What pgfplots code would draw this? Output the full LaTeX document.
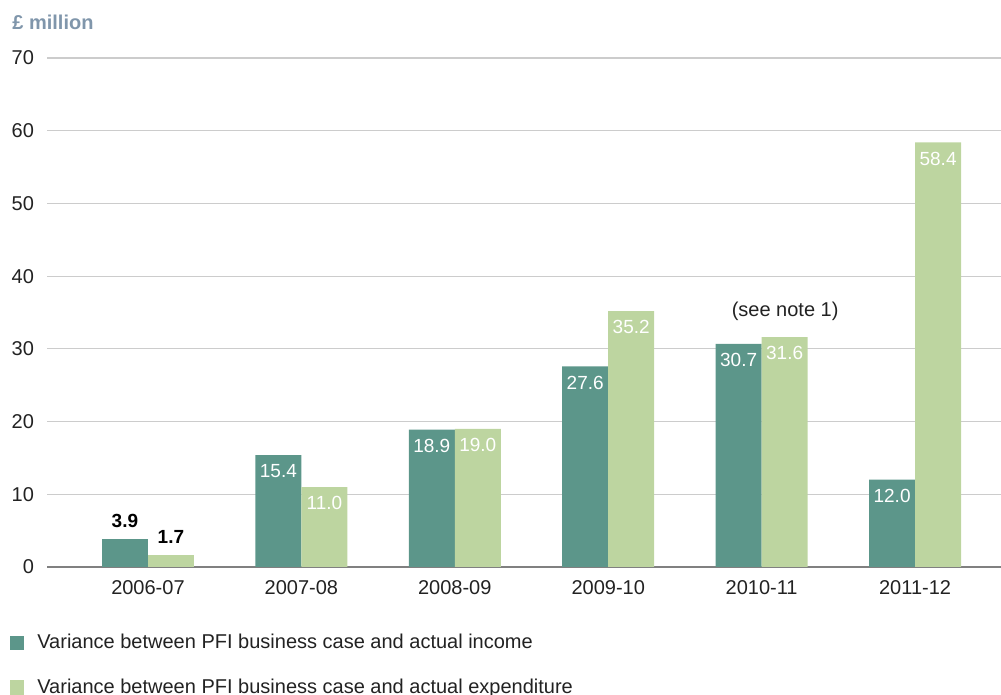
\documentclass[border=0pt]{standalone}
\usepackage{pgfplots}
\pgfplotsset{compat=1.18}
\usepackage{fontspec}
\setmainfont{Liberation Sans}
\definecolor{teal1}{HTML}{5C968A}
\definecolor{green1}{HTML}{BDD5A0}
\definecolor{titleblue}{HTML}{8096AB}
\definecolor{gridgray}{HTML}{CCCCCC}
\definecolor{axisgray}{HTML}{808080}
\definecolor{txt}{HTML}{222222}
\begin{document}
\begin{tikzpicture}
\useasboundingbox (0,0) rectangle (500.5pt,347.5pt);
\node[anchor=west, inner sep=0pt, text=titleblue, font=\fontsize{10}{12}\selectfont\bfseries] at (6pt,336.5pt) {£ million};
\begin{axis}[
  at={(23.5pt,64pt)}, anchor=south west,
  scale only axis, width=477pt, height=254.5pt,
  xmin=-0.658, xmax=5.56, ymin=0, ymax=70,
  xtick={0,1,2,3,4,5},
  xticklabels={2006-07,2007-08,2008-09,2009-10,2010-11,2011-12},
  ytick={0,10,...,70},
  major tick length=0pt,
  ymajorgrids, grid style={gridgray, line width=0.6pt},
  axis x line*=bottom, x axis line style={axisgray, line width=1pt, -},
  axis y line*=left, y axis line style={draw=none},
  /pgf/number format/assume math mode=true,
  ticklabel style={font=\fontsize{10}{12}\selectfont, text=txt},
  yticklabel style={xshift=-3pt},
  xticklabel style={yshift=-3pt},
  bar width=23pt,
  clip=false,
  legend cell align=left,
  legend style={at={(-0.0388,-0.132)}, anchor=north west, draw=none, fill=none,
    inner sep=0pt, outer sep=0pt, row sep=13.5pt, column sep=6.5pt,
    font=\fontsize{10}{12}\selectfont, text=txt,
    nodes={inner sep=0pt}},
  legend image code/.code={\fill[#1] (0pt,-3.6pt) rectangle (7.2pt,3.6pt);},
]
% income series (labels inside bars)
\addplot[ybar, bar shift=-11.5pt, fill=teal1, draw=none,
  nodes near coords={\pgfmathprintnumber[fixed,zerofill,precision=1]{\pgfplotspointmeta}},
  nodes near coords style={anchor=north, xshift=-11.5pt, yshift=-1.2pt, text=white, font=\fontsize{9.5}{11}\selectfont}]
  coordinates {(1,15.4) (2,18.9) (3,27.6) (4,30.7) (5,12.0)};
\addlegendentry{Variance between PFI business case and actual income}
% expenditure series (labels inside bars)
\addplot[ybar, bar shift=11.5pt, fill=green1, draw=none,
  nodes near coords={\pgfmathprintnumber[fixed,zerofill,precision=1]{\pgfplotspointmeta}},
  nodes near coords style={anchor=north, xshift=11.5pt, yshift=-1.2pt, text=white, font=\fontsize{9.5}{11}\selectfont}]
  coordinates {(1,11.0) (2,19.0) (3,35.2) (4,31.6) (5,58.4)};
\addlegendentry{Variance between PFI business case and actual expenditure}
% 2006-07 bars (labels above bars)
\addplot[ybar, bar shift=-11.5pt, fill=teal1, draw=none, forget plot,
  nodes near coords={\pgfmathprintnumber[fixed,zerofill,precision=1]{\pgfplotspointmeta}},
  nodes near coords style={anchor=south, xshift=-11.5pt, yshift=2pt, text=black, font=\fontsize{9.5}{11}\selectfont\bfseries}]
  coordinates {(0,3.9)};
\addplot[ybar, bar shift=11.5pt, fill=green1, draw=none, forget plot,
  nodes near coords={\pgfmathprintnumber[fixed,zerofill,precision=1]{\pgfplotspointmeta}},
  nodes near coords style={anchor=south, xshift=11.5pt, yshift=2pt, text=black, font=\fontsize{9.5}{11}\selectfont\bfseries}]
  coordinates {(0,1.7)};
\node[font=\fontsize{10}{12}\selectfont, text=txt] at (axis cs:4.153,35.2) {(see note 1)};
\end{axis}
\end{tikzpicture}
\end{document}
